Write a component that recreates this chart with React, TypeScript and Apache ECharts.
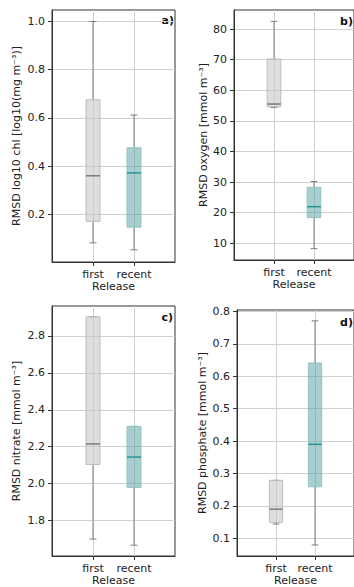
import React, { useEffect, useRef } from "react";
import * as echarts from "echarts";

// Categories (x axis); index 0 and 3 are empty padding slots (xlim 0..3)
const xSlots = ["", "first", "recent", ""];

// Box statistics: [lower whisker, Q1, median, Q3, upper whisker]
const chlFirst = [0.082, 0.171, 0.36, 0.675, 1.0];
const chlRecent = [0.053, 0.147, 0.372, 0.476, 0.612];
const oxyFirst = [54.35, 54.6, 55.5, 70.2, 82.5];
const oxyRecent = [8.26, 18.4, 21.96, 28.3, 30.2];
const nitFirst = [1.7, 2.104, 2.215, 2.903, 2.903];
const nitRecent = [1.667, 1.98, 2.144, 2.31, 2.31];
const phoFirst = [0.144, 0.149, 0.19, 0.279, 0.279];
const phoRecent = [0.0795, 0.259, 0.39, 0.641, 0.771];

// Tick values
const chlTicks = [0.2, 0.4, 0.6, 0.8, 1.0];
const oxyTicks = [10, 20, 30, 40, 50, 60, 70, 80];
const nitTicks = [1.8, 2.0, 2.2, 2.4, 2.6, 2.8];
const phoTicks = [0.1, 0.2, 0.3, 0.4, 0.5, 0.6, 0.7, 0.8];

const yNames = [
  "RMSD log10 chl [log10(mg m⁻³)]",
  "RMSD oxygen [mmol m⁻³]",
  "RMSD nitrate [mmol m⁻³]",
  "RMSD phosphate [mmol m⁻³]",
];
const panelLabels = ["a)", "b)", "c)", "d)"];

const FONT = "DejaVu Sans";
const TXT = "#222";

const firstStyle = { fill: "rgba(200,200,200,0.6)", stroke: "#bdbdbd", median: "#7a7a7a" };
const recentStyle = { fill: "rgba(80,160,160,0.5)", stroke: "#93c2c2", median: "#2a9292" };
const whiskerColor = "#7f7f7f";

function makeRender(st: { fill: string; stroke: string; median: string }) {
  return (params: any, api: any) => {
    const x = api.value(0);
    const mn = api.value(1), q1 = api.value(2), md = api.value(3), q3 = api.value(4), mx = api.value(5);
    const pMin = api.coord([x, mn]);
    const pQ1 = api.coord([x, q1]);
    const pMd = api.coord([x, md]);
    const pQ3 = api.coord([x, q3]);
    const pMx = api.coord([x, mx]);
    const band = api.size([1, 0])[0];
    const hb = band * 0.17;
    const hc = band * 0.085;
    const cx = pMd[0];
    const wStyle = { stroke: whiskerColor, lineWidth: 1, fill: null };
    return {
      type: "group",
      children: [
        { type: "line", shape: { x1: cx, y1: pQ3[1], x2: cx, y2: pMx[1] }, style: wStyle },
        { type: "line", shape: { x1: cx, y1: pQ1[1], x2: cx, y2: pMin[1] }, style: wStyle },
        { type: "line", shape: { x1: cx - hc, y1: pMx[1], x2: cx + hc, y2: pMx[1] }, style: wStyle },
        { type: "line", shape: { x1: cx - hc, y1: pMin[1], x2: cx + hc, y2: pMin[1] }, style: wStyle },
        {
          type: "rect",
          shape: { x: cx - hb, y: pQ3[1], width: 2 * hb, height: pQ1[1] - pQ3[1] },
          style: { fill: st.fill, stroke: st.stroke, lineWidth: 1 },
        },
        { type: "line", shape: { x1: cx - hb, y1: pMd[1], x2: cx + hb, y2: pMd[1] }, style: { stroke: st.median, lineWidth: 1.5 } },
      ],
    };
  };
}

const fmt = (decimals: number) => (v: number) => v.toFixed(decimals);

export default function App() {
  const ref = useRef<HTMLDivElement>(null);
  useEffect(() => {
    if (!ref.current) return;
    const chart = echarts.init(ref.current, null, { renderer: "svg" });

    const grids = [
      { left: 52, top: 10, width: 123, height: 252 },
      { left: 234, top: 10, width: 126, height: 250 },
      { left: 52, top: 306, width: 123, height: 251 },
      { left: 237, top: 310, width: 126, height: 246 },
    ];
    const yCfg = [
      { min: 0.0025, max: 1.0475, ticks: chlTicks, dec: 1, gap: 30 },
      { min: 4.55, max: 86.21, ticks: oxyTicks, dec: 0, gap: 25 },
      { min: 1.6085, max: 2.9615, ticks: nitTicks, dec: 1, gap: 30 },
      { min: 0.0455, max: 0.8045, ticks: phoTicks, dec: 1, gap: 29 },
    ];
    const data = [
      [chlFirst, chlRecent],
      [oxyFirst, oxyRecent],
      [nitFirst, nitRecent],
      [phoFirst, phoRecent],
    ];

    const showIdx = (i: number) => i === 1 || i === 2;

    const option: any = {
      animation: false,
      textStyle: { fontFamily: FONT },
      grid: grids.map((g) => ({ ...g, show: true, borderColor: "#333", borderWidth: 1, backgroundColor: "transparent" })),
      xAxis: grids.map((_, i) => ({
        type: "category",
        gridIndex: i,
        data: xSlots,
        boundaryGap: false,
        name: "Release",
        nameLocation: "middle",
        nameGap: 19,
        nameTextStyle: { fontFamily: FONT, fontSize: 11, color: TXT },
        axisLine: { show: true, lineStyle: { color: "#333", width: 1 } },
        axisTick: { show: true, length: 4, interval: (idx: number) => showIdx(idx), lineStyle: { color: "#333" } },
        axisLabel: { show: true, interval: (idx: number) => showIdx(idx), margin: 7, fontFamily: FONT, fontSize: 11, color: TXT },
        splitLine: { show: true, interval: (idx: number) => showIdx(idx), lineStyle: { color: "#d0d0d0", width: 1 } },
      })),
      yAxis: grids.map((_, i) => ({
        type: "value",
        gridIndex: i,
        min: yCfg[i].min,
        max: yCfg[i].max,
        name: yNames[i],
        nameLocation: "middle",
        nameRotate: 90,
        nameGap: yCfg[i].gap,
        nameTextStyle: { fontFamily: FONT, fontSize: 11, color: TXT },
        axisLine: { show: true, lineStyle: { color: "#333", width: 1 } },
        axisTick: { show: true, length: 4, customValues: yCfg[i].ticks, lineStyle: { color: "#333" } },
        axisLabel: {
          show: true,
          customValues: yCfg[i].ticks,
          formatter: fmt(yCfg[i].dec),
          margin: 7,
          fontFamily: FONT,
          fontSize: 11,
          color: TXT,
        },
        splitLine: { show: true, lineStyle: { color: "#d0d0d0", width: 1 } },
      })),
      series: data.flatMap((pair, i) => [
        {
          type: "custom",
          xAxisIndex: i,
          yAxisIndex: i,
          renderItem: makeRender(firstStyle),
          encode: { x: 0, y: [1, 2, 3, 4, 5] },
          data: [[1, ...pair[0]]],
          z: 3,
        },
        {
          type: "custom",
          xAxisIndex: i,
          yAxisIndex: i,
          renderItem: makeRender(recentStyle),
          encode: { x: 0, y: [1, 2, 3, 4, 5] },
          data: [[2, ...pair[1]]],
          z: 3,
        },
      ]),
      graphic: [
        { type: "text", x: 174, y: 20, style: { text: panelLabels[0], align: "right", verticalAlign: "middle", font: `bold 11px '${FONT}'`, fill: "#111" } },
        { type: "text", x: 353, y: 21, style: { text: panelLabels[1], align: "right", verticalAlign: "middle", font: `bold 11px '${FONT}'`, fill: "#111" } },
        { type: "text", x: 173, y: 317, style: { text: panelLabels[2], align: "right", verticalAlign: "middle", font: `bold 11px '${FONT}'`, fill: "#111" } },
        { type: "text", x: 353, y: 322, style: { text: panelLabels[3], align: "right", verticalAlign: "middle", font: `bold 11px '${FONT}'`, fill: "#111" } },
      ],
    };
    chart.setOption(option);
    return () => chart.dispose();
  }, []);

  return (
    <div
      ref={ref}
      style={{ position: "absolute", left: 0, top: 0, width: 354, height: 587, background: "#fff" }}
    />
  );
}
